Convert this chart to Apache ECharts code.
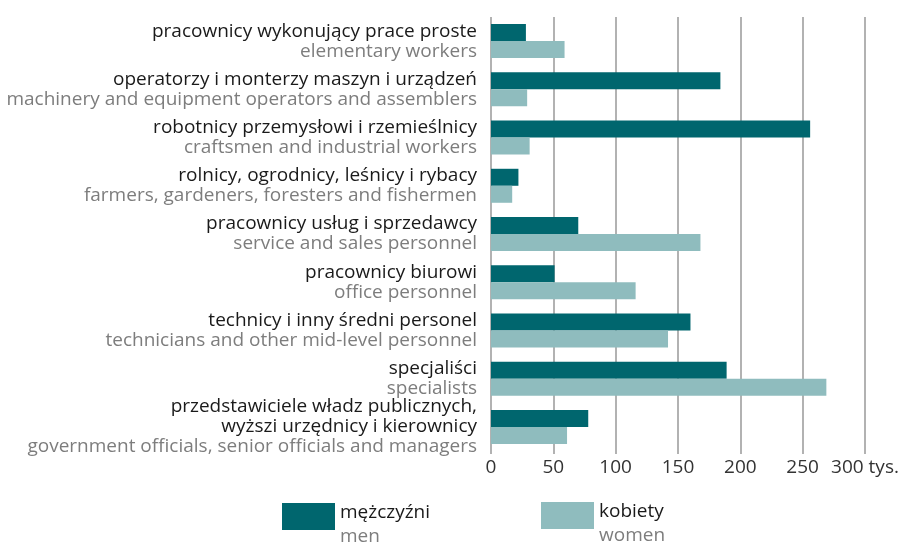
<!DOCTYPE html>
<html><head><meta charset="utf-8">
<script src="https://cdn.jsdelivr.net/npm/echarts@6/dist/echarts.min.js"></script>
<style>html,body{margin:0;padding:0;background:#fff}#c{width:907px;height:546px}</style>
</head><body><div id="c"></div>
<script>
const categoriesPl = [
  'pracownicy wykonujący prace proste',
  'operatorzy i monterzy maszyn i urządzeń',
  'robotnicy przemysłowi i rzemieślnicy',
  'rolnicy, ogrodnicy, leśnicy i rybacy',
  'pracownicy usług i sprzedawcy',
  'pracownicy biurowi',
  'technicy i inny średni personel',
  'specjaliści',
  'przedstawiciele władz publicznych,\nwyższi urzędnicy i kierownicy'
];
const categoriesEn = [
  'elementary workers',
  'machinery and equipment operators and assemblers',
  'craftsmen and industrial workers',
  'farmers, gardeners, foresters and fishermen',
  'service and sales personnel',
  'office personnel',
  'technicians and other mid-level personnel',
  'specialists',
  'government officials, senior officials and managers'
];
const men = [28, 184, 256, 22, 70, 51, 160, 189, 78];
const women = [59, 29, 31, 17, 168, 116, 142, 269, 61];
const xTicks = [0, 50, 100, 150, 200, 250, 300];
const seriesNamesPl = ['mężczyźni', 'kobiety'];
const seriesNamesEn = ['men', 'women'];

const FONT = 'Open Sans';
const FS = 19;
const cats = categoriesPl.map((p, i) => i);
const chart = echarts.init(document.getElementById('c'), null, {renderer: 'canvas'});
const legendRich = {
  a: {fontFamily: FONT, fontSize: FS, color: '#1a1a1a', lineHeight: 24},
  b: {fontFamily: FONT, fontSize: FS, color: '#7d7d7d', lineHeight: 24}
};
chart.setOption({
  animation: false,
  textStyle: {fontFamily: FONT},
  grid: {left: 491, right: 42, top: 17, height: 434, containLabel: false},
  xAxis: {
    type: 'value', min: xTicks[0], max: xTicks[xTicks.length - 1], interval: 50,
    axisLine: {show: false},
    axisTick: {show: true, length: 3, lineStyle: {color: '#999', width: 1.5}},
    splitLine: {show: true, lineStyle: {color: '#999', width: 1.5}},
    axisLabel: {
      fontFamily: FONT, fontSize: FS, color: '#333', margin: 7,
      formatter: v => v === 300 ? '300 tys.' : String(v)
    }
  },
  yAxis: {
    type: 'category', inverse: true, data: cats,
    axisLine: {show: false}, axisTick: {show: false},
    axisLabel: {
      margin: 14, align: 'right', interval: 0, hideOverlap: false,
      formatter: (v, i) => {
        const pl = categoriesPl[i].split('\n').map(s => '{p|' + s + '}').join('\n');
        return pl + '\n{e|' + categoriesEn[i] + '}';
      },
      rich: {
        p: {fontFamily: FONT, fontSize: FS, color: '#1a1a1a', lineHeight: 20, align: 'right'},
        e: {fontFamily: FONT, fontSize: FS, color: '#7d7d7d', lineHeight: 20, align: 'right'}
      }
    }
  },
  legend: [
    {
      data: [seriesNamesPl[0]], left: 282, top: 503, padding: 0, itemWidth: 53, itemHeight: 27,
      icon: 'rect', itemGap: 0,
      formatter: n => '{a|' + n + '}\n{b|' + seriesNamesEn[0] + '}',
      textStyle: {padding: [17, 0, 0, 0], rich: legendRich}
    },
    {
      data: [seriesNamesPl[1]], left: 541, top: 502, padding: 0, itemWidth: 53, itemHeight: 27,
      icon: 'rect', itemGap: 0,
      formatter: n => '{a|' + n + '}\n{b|' + seriesNamesEn[1] + '}',
      textStyle: {padding: [17, 0, 0, 0], rich: legendRich}
    }
  ],
  series: [
    {name: seriesNamesPl[0], type: 'bar', data: men, barWidth: 17, barGap: '0%',
     itemStyle: {color: '#00666e'}},
    {name: seriesNamesPl[1], type: 'bar', data: women, barWidth: 17, barGap: '0%',
     itemStyle: {color: '#8fbcbe'}}
  ]
});
</script></body></html>
